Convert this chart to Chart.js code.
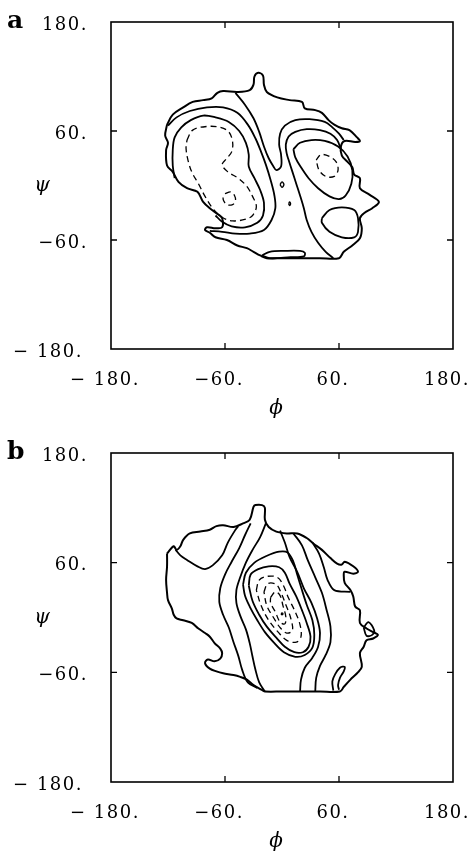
<!DOCTYPE html>
<html>
<head>
<meta charset="utf-8">
<script src="https://cdn.jsdelivr.net/npm/chart.js@4/dist/chart.umd.min.js"></script>
<style>
  body { margin: 0; background: #fff; }
  canvas { position: absolute; left: 0; }
  #chartA { top: 0; }
  #chartB { top: 425px; }
</style>
</head>
<body>
<canvas id="chartA" width="475" height="425"></canvas>
<canvas id="chartB" width="475" height="426"></canvas>
<script>
// axis ticks (phi and psi, degrees)
const tickValues = [-180, -60, 60, 180];
const tickLabels = ["\u2212 180.", "\u221260.", "60.", "180."];

// ---- panel a : contour lines as [phi, psi] ----
const aBoundary = [[-121,67],[-115,78],[-104,86],[-94,92],[-83,94],[-74,96],[-68,102],[-62,104],[-47,103],[-34,105],[-30,111],[-29,120],[-25,124],[-20,121],[-19,111],[-16,103],[-5,97],[8,94],[21,92],[24,85],[35,83],[42,80],[49,72],[55,67],[63,63],[71,61],[79,53],[82,49],[77,48],[66,49],[62,43],[63,33],[69,26],[74,20],[76,12],[82,8],[82,-3],[92,-10],[102,-18],[95,-25],[87,-30],[82,-36],[84,-47],[82,-58],[74,-66],[65,-73],[60,-80],[40,-80],[20,-80],[0,-80],[-16,-80],[-23,-77],[-30,-73],[-37,-69],[-47,-66],[-58,-60],[-70,-57],[-76,-52],[-81,-49],[-79,-46],[-70,-47],[-63,-46],[-63,-36],[-67,-32],[-76,-25],[-83,-18],[-89,-7],[-100,-3],[-109,4],[-115,15],[-121,22],[-122,39],[-120,47],[-123,55],[-121,67]];
const aSliver = [[-21,-77],[-13,-73],[3,-72],[19,-72],[24,-74],[23,-78],[9,-79],[-13,-80],[-21,-77]];
const aLeftDash = [[-100,50],[-94,61],[-79,65],[-65,64],[-56,59],[-52,48],[-53,37],[-58,30],[-63,23],[-57,15],[-46,8],[-37,-1],[-31,-12],[-27,-23],[-31,-33],[-38,-37],[-52,-39],[-63,-35],[-73,-25],[-81,-12],[-88,2],[-95,15],[-99,28],[-101,41],[-100,50]];
const aLeftDashCore = [[-60,-9],[-54,-7],[-50,-11],[-49,-17],[-52,-21],[-58,-21],[-62,-15],[-60,-9]];
const aLeftInner = [[-113,8],[-115,22],[-115,39],[-113,53],[-106,64],[-96,72],[-83,77],[-70,75],[-56,70],[-45,60],[-38,47],[-35,34],[-35,21],[-29,8],[-23,-5],[-19,-19],[-20,-33],[-26,-41],[-39,-46],[-53,-45],[-63,-40],[-70,-33]];
const aLeftOuter = [[-120,66],[-111,75],[-97,82],[-79,86],[-62,86],[-47,80],[-36,67],[-28,52],[-22,37],[-17,23],[-12,6],[-8,-11],[-7,-25],[-11,-38],[-19,-49],[-34,-53],[-49,-53],[-63,-51],[-76,-50]];
const aHairpin = [[-49,102],[-39,89],[-30,74],[-24,59],[-19,43],[-14,30],[-9,21],[-6,17],[-1,21],[-1,34],[-3,45],[-2,57],[3,66],[14,72],[29,73],[45,70],[53,64],[60,57],[65,50]];
const aRightArc = [[62,40],[58,50],[51,57],[40,61],[26,62],[14,59],[7,54],[4,45],[5,35],[7,28],[11,15],[15,2],[19,-11],[23,-25],[26,-38],[31,-51],[38,-63],[46,-73],[54,-80]];
const aRightInner = [[12,40],[19,47],[31,50],[45,49],[59,43],[69,32],[74,17],[73,2],[67,-11],[60,-15],[50,-12],[38,-3],[28,8],[20,20],[14,31],[12,40]];
const aRightDash = [[36,28],[41,34],[50,32],[57,26],[59,17],[55,10],[46,10],[39,17],[36,28]];
const aLowerOval = [[42,-36],[50,-27],[63,-24],[76,-27],[80,-36],[80,-51],[76,-57],[63,-57],[50,-51],[42,-41],[42,-36]];
const aDot1 = [[-2,1],[0,4],[2,1],[0,-2],[-2,1]];
const aDot2 = [[7,-20],[8,-18],[9,-20],[8,-22],[7,-20]];

// ---- panel b ----
const bBoundary = [[-121,70],[-114,78],[-111,74],[-107,78],[-104,85],[-97,92],[-86,94],[-76,96],[-69,100],[-62,101],[-51,99],[-41,103],[-34,107],[-30,121],[-28,123],[-21,123],[-18,120],[-18,107],[-14,99],[-6,94],[5,92],[16,92],[26,87],[33,81],[42,74],[51,65],[58,59],[63,58],[66,61],[75,56],[80,50],[75,48],[66,50],[65,47],[66,38],[72,30],[75,23],[77,12],[82,8],[82,-6],[89,-12],[96,-16],[101,-19],[96,-23],[89,-25],[86,-32],[82,-39],[84,-54],[79,-61],[72,-68],[65,-76],[61,-81],[40,-81],[20,-81],[0,-81],[-18,-81],[-20,-80],[-30,-74],[-37,-68],[-44,-65],[-51,-63],[-62,-61],[-69,-59],[-76,-56],[-81,-50],[-78,-46],[-71,-48],[-65,-45],[-63,-39],[-65,-34],[-71,-28],[-76,-21],[-81,-17],[-88,-12],[-95,-6],[-104,-3],[-111,-1],[-114,3],[-116,10],[-120,19],[-121,27],[-122,41],[-121,56],[-121,70]];
const bBay = [[-112,74],[-107,68],[-100,63],[-89,56],[-81,53],[-73,57],[-63,68],[-57,82],[-49,96],[-46,100]];
const bLeft1 = [[-33,103],[-39,90],[-45,76],[-53,61],[-60,47],[-65,32],[-66,17],[-62,3],[-56,-11],[-51,-27],[-46,-42],[-42,-57],[-36,-71],[-26,-77]];
const bLeft2 = [[-17,103],[-23,88],[-31,74],[-38,60],[-44,44],[-48,30],[-48,16],[-44,2],[-38,-13],[-34,-28],[-31,-43],[-28,-57],[-24,-71],[-18,-81]];
const bRing1 = [[-41,36],[-38,49],[-29,60],[-17,67],[-3,72],[6,71],[12,61],[16,47],[21,30],[26,14],[32,-3],[34,-19],[32,-33],[24,-41],[14,-43],[2,-38],[-8,-28],[-18,-16],[-26,-3],[-34,12],[-39,24],[-41,36]];
const bRing2 = [[-35,35],[-33,47],[-25,53],[-14,56],[-3,55],[3,49],[8,37],[15,23],[21,8],[26,-6],[30,-21],[28,-32],[22,-38],[13,-38],[3,-32],[-6,-22],[-16,-10],[-24,3],[-31,18],[-35,35]];
const bDash1 = [[-27,30],[-24,41],[-16,45],[-5,44],[1,36],[7,21],[14,6],[19,-8],[20,-21],[15,-27],[5,-25],[-4,-16],[-14,-3],[-22,13],[-27,30]];
const bDash2 = [[-19,28],[-15,37],[-6,36],[-1,27],[4,14],[9,0],[11,-14],[5,-17],[-2,-11],[-9,0],[-16,13],[-19,28]];
const bDash3 = [[-12,22],[-7,28],[-2,24],[1,13],[4,1],[3,-7],[-2,-5],[-7,6],[-12,16],[-12,22]];
const bCentre = [[-1,4],[0,5],[1,4],[0,3],[-1,4]];
const bRight1 = [[-2,95],[3,82],[8,66],[16,50],[23,32],[31,16],[37,-1],[40,-17],[38,-32],[32,-44],[24,-55],[20,-68],[19,-81]];
const bRight2 = [[12,92],[21,79],[27,63],[35,44],[42,27],[47,8],[51,-10],[51,-27],[46,-41],[40,-53],[36,-66],[35,-81]];
const bRight3 = [[32,82],[39,70],[44,55],[48,41],[55,30],[72,28]];
const bHook = [[54,-80],[53,-70],[56,-62],[61,-55],[66,-54],[65,-59],[61,-66],[59,-74],[60,-79]];
const bTipLoop = [[86,-11],[91,-5],[97,-14],[95,-19],[89,-20],[86,-11]];

function contour(points, dashed, width) {
  return {
    data: points.map((p) => ({ x: p[0], y: p[1] })),
    showLine: true,
    borderColor: "#000",
    borderWidth: width || (dashed ? 1.3 : 1.8),
    borderDash: dashed ? [6, 4] : [],
    pointRadius: 0,
    tension: 0.35,
    fill: false,
  };
}

// frame, inward ticks and serif labels, drawn from the scales
function framePlugin(letter) {
  return {
    id: "frame",
    afterDraw(chart) {
      const { ctx, chartArea: a, scales } = chart;
      const xs = scales.x, ys = scales.y;
      ctx.save();
      ctx.strokeStyle = "#000";
      ctx.lineWidth = 1.6;
      ctx.strokeRect(a.left, a.top, a.right - a.left, a.bottom - a.top);
      ctx.lineWidth = 1.3;
      ctx.beginPath();
      tickValues.forEach((v) => {
        if (Math.abs(v) === 180) return;
        const px = xs.getPixelForValue(v);
        ctx.moveTo(px, a.top); ctx.lineTo(px, a.top + 6);
        ctx.moveTo(px, a.bottom); ctx.lineTo(px, a.bottom - 6);
        const py = ys.getPixelForValue(v);
        ctx.moveTo(a.left, py); ctx.lineTo(a.left + 6, py);
        ctx.moveTo(a.right, py); ctx.lineTo(a.right - 6, py);
      });
      ctx.stroke();

      ctx.fillStyle = "#000";
      ctx.font = '18px "DejaVu Serif"';
      ctx.letterSpacing = "1.5px";
      ctx.textBaseline = "middle";
      ctx.textAlign = "right";
      tickValues.forEach((v, i) => {
        const shift = v === -180 ? 5 : 0;
        ctx.fillText(tickLabels[i], a.left - 23 - shift, ys.getPixelForValue(v) + 3);
      });
      ctx.textAlign = "center";
      tickValues.forEach((v, i) => {
        ctx.fillText(tickLabels[i], xs.getPixelForValue(v) - 6, a.bottom + 31);
      });
      ctx.letterSpacing = "0px";

      ctx.font = 'italic 20px "DejaVu Serif"';
      ctx.fillText("\u03c8", 42, (a.top + a.bottom) / 2);
      ctx.fillText("\u03d5", (a.left + a.right) / 2 - 6, a.bottom + 60);

      ctx.font = 'bold 25px "DejaVu Serif"';
      ctx.textAlign = "left";
      ctx.textBaseline = "alphabetic";
      ctx.fillText(letter, 7, a.top + 6);
      ctx.restore();
    },
  };
}

function makeChart(id, datasets, padding, letter) {
  return new Chart(document.getElementById(id).getContext("2d"), {
    type: "scatter",
    data: { datasets: datasets },
    options: {
      responsive: false,
      animation: false,
      layout: { padding: padding },
      plugins: { legend: { display: false }, tooltip: { enabled: false } },
      scales: {
        x: { type: "linear", min: -180, max: 180, display: false },
        y: { type: "linear", min: -180, max: 180, display: false },
      },
    },
    plugins: [framePlugin(letter)],
  });
}

makeChart("chartA", [
  contour(aBoundary, false, 2),
  contour(aSliver),
  contour(aLeftDash, true),
  contour(aLeftDashCore, true),
  contour(aLeftInner),
  contour(aLeftOuter),
  contour(aHairpin),
  contour(aRightArc),
  contour(aRightInner),
  contour(aRightDash, true),
  contour(aLowerOval),
  contour(aDot1, false, 1.4),
  contour(aDot2, false, 1.4),
], { left: 111, right: 22, top: 22, bottom: 76 }, "a");

makeChart("chartB", [
  contour(bBoundary, false, 2),
  contour(bBay),
  contour(bLeft1),
  contour(bLeft2),
  contour(bRing1),
  contour(bRing2),
  contour(bDash1, true),
  contour(bDash2, true),
  contour(bDash3, true),
  contour(bCentre, false, 1.4),
  contour(bRight1),
  contour(bRight2),
  contour(bRight3),
  contour(bHook),
  contour(bTipLoop),
], { left: 111, right: 22, top: 28, bottom: 69 }, "b");
</script>
</body>
</html>
